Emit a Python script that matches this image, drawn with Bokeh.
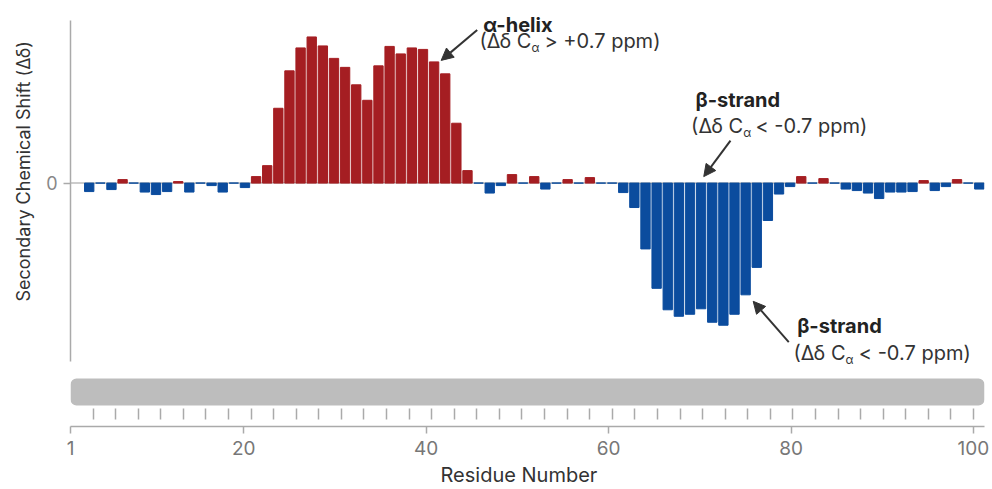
import numpy as np
from bokeh.plotting import figure
from bokeh.models import (Range1d, FixedTicker, Span, BoxAnnotation, Label,
                          Arrow, NormalHead, ColumnDataSource, Title)
from bokeh.embed import file_html
from bokeh.resources import INLINE

# ---------------- data ----------------
bar_index = list(range(1, 82))
shift_ppm = [
    -0.17, 0.00, -0.13, 0.07, 0.00, -0.18, -0.23, -0.17, 0.03, -0.18,
    0.00, -0.05, -0.18, 0.00, -0.09, 0.13, 0.35, 1.50, 2.25, 2.71,
    2.93, 2.75, 2.50, 2.32, 1.97, 1.66, 2.35, 2.74, 2.59, 2.71,
    2.68, 2.43, 2.19, 1.20, 0.25, 0.00, -0.20, -0.05, 0.17, 0.00,
    0.13, -0.12, 0.00, 0.07, 0.00, 0.11, 0.00, 0.00, -0.19, -0.49,
    -1.32, -2.11, -2.54, -2.67, -2.63, -2.52, -2.79, -2.85, -2.63, -2.24,
    -1.69, -0.75, -0.22, -0.07, 0.13, 0.00, 0.09, 0.00, -0.12, -0.15,
    -0.20, -0.31, -0.18, -0.18, -0.17, 0.05, -0.15, -0.07, 0.07, 0.00,
    -0.12,
]
residue_ticks = [1, 20, 40, 60, 80, 100]
y_ticks = [0]
n_minor_intervals = 40

RED = "#a51e22"
BLUE = "#0b4c9e"
FONT = "Inter"

colors = [RED if v > 0 else BLUE for v in shift_ppm]
src = ColumnDataSource(dict(x=bar_index, top=shift_ppm, color=colors))

# ---------------- figure ----------------
p = figure(width=992, height=489, output_backend="svg", toolbar_location=None,
           x_range=Range1d(1, 101.21), y_range=Range1d(-4.88, 3.42),
           min_border_left=70, min_border_right=8, min_border_top=12,
           min_border_bottom=62)
p.extra_x_ranges = {"bars": Range1d(-0.681, 81.47)}
p.background_fill_color = "white"
p.border_fill_color = "white"
p.outline_line_color = None
p.grid.visible = False

# sequence bar and zero line
p.add_layout(BoxAnnotation(bottom=-4.46, top=-3.92, fill_color="#bdbdbd",
                           fill_alpha=1.0, line_color=None, border_radius=6,
                           level="underlay"))
p.add_layout(Span(location=0, dimension="width", line_color="#bbbbbb",
                  line_width=1.5, level="underlay"))

p.vbar(x="x", top="top", bottom=0, width=0.84, color="color", source=src,
       x_range_name="bars")

# x axis
xa = p.xaxis[0]
minor = list(np.linspace(residue_ticks[0], residue_ticks[-1], n_minor_intervals + 1)[1:])
xa.ticker = FixedTicker(ticks=residue_ticks, minor_ticks=minor)
xa.axis_line_color = "#aaaaaa"
xa.axis_line_width = 1.5
xa.major_tick_line_color = "#aaaaaa"
xa.major_tick_line_width = 1.5
xa.major_tick_in = 0
xa.major_tick_out = 7
xa.minor_tick_line_color = "#aaaaaa"
xa.minor_tick_line_width = 1.5
xa.minor_tick_in = 18
xa.minor_tick_out = -7
xa.major_label_text_font = FONT
xa.major_label_text_font_size = "19px"
xa.major_label_text_color = "#777777"
xa.major_label_standoff = 7

# x axis title as a bottom side title, placed where the reference has it
p.add_layout(Title(text="Residue Number", align="left", offset=370, standoff=6,
                   text_font=FONT, text_font_size="20px", text_font_style="normal",
                   text_color="#333333"), "below")

# y axis (line, zero tick)
ya = p.yaxis[0]
ya.ticker = FixedTicker(ticks=y_ticks)
ya.bounds = (-3.58, 3.26)
ya.axis_line_color = "#aaaaaa"
ya.axis_line_width = 1.5
ya.major_tick_line_color = "#aaaaaa"
ya.major_tick_line_width = 1.5
ya.major_tick_in = 0
ya.major_tick_out = 7
ya.minor_tick_in = 0
ya.minor_tick_out = 0
ya.major_label_text_font = FONT
ya.major_label_text_font_size = "18px"
ya.major_label_text_color = "#888888"
ya.major_label_standoff = 6

# y axis title placed as a side title, lifted to where the reference has it
p.add_layout(Title(text="Secondary Chemical Shift (Δδ)", align="left",
                   offset=125, standoff=20, text_font=FONT,
                   text_font_size="18px", text_font_style="normal",
                   text_color="#333333"), "left")

# annotations
DARK = "#222222"
TXT = "#333333"


def note(x1, y1, title, xs, ya_, ys, xb, rest):
    p.add_layout(Label(x=x1, y=y1, text=title, text_font=FONT, text_font_size="20px",
                       text_font_style="bold", text_color=DARK,
                       text_baseline="middle"))
    p.add_layout(Label(x=xs, y=ya_, text="(Δδ C", text_font=FONT, text_align="right",
                       text_font_size="20px", text_color=TXT, text_baseline="middle"))
    p.add_layout(Label(x=xs, y=ys, text="α", text_font=FONT,
                       text_font_size="12px", text_color=TXT, text_baseline="middle"))
    p.add_layout(Label(x=xb, y=ya_, text=rest, text_font=FONT,
                       text_font_size="20px", text_color=TXT, text_baseline="middle"))


def arrow(xs, ys, xe, ye):
    p.add_layout(Arrow(end=NormalHead(size=12, fill_color="#333333",
                                      line_color="#333333", line_width=1),
                       x_start=xs, y_start=ys, x_end=xe, y_end=ye,
                       line_color="#333333", line_width=2))


note(46.25, 3.17, "α-helix", 51.54, 2.84, 2.72, 52.97, "> +0.7 ppm)")
arrow(45.59, 3.07, 41.64, 2.46)
note(69.52, 1.66, "β-strand", 74.75, 1.14, 1.02, 76.10, "< -0.7 ppm)")
arrow(73.36, 0.85, 70.43, 0.13)
note(80.67, -2.86, "β-strand", 85.97, -3.41, -3.54, 87.43, "< -0.7 ppm)")
arrow(79.75, -3.19, 75.85, -2.37)

open("out.html", "w").write(file_html(p, INLINE))
